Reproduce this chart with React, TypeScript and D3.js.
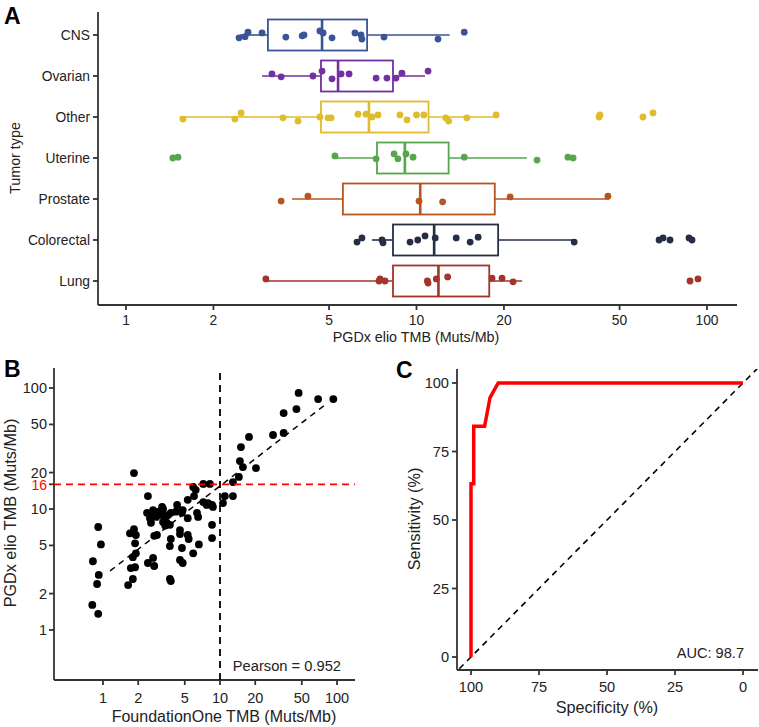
import React from 'react';
import * as d3 from 'd3';

// ---- Panel A: TMB by tumor type ----
const tumorTypes = ['CNS', 'Ovarian', 'Other', 'Uterine', 'Prostate', 'Colorectal', 'Lung'];
const typeColors = ['#3A5495', '#7230A1', '#DFBC2B', '#55A64C', '#B5561F', '#262E45', '#A3342A'];
const boxQ1 = [3.08, 4.69, 4.69, 7.31, 5.58, 8.3, 8.3];
const boxMedian = [4.73, 5.37, 6.86, 9.12, 10.3, 11.5, 11.9];
const boxQ3 = [6.76, 8.3, 11.0, 12.9, 18.6, 19.1, 17.8];
const whiskerLow = [2.47, 2.94, 1.53, 5.3, 3.73, 7.03, 3.0];
const whiskerHigh = [13.0, 10.7, 19.1, 24.0, 46.0, 34.9, 23.1];

const tmbCNS = [2.45, 2.57, 2.63, 2.94, 3.55, 4.04, 4.1, 4.65, 4.77, 5.12, 6.14, 6.44, 6.49, 7.73, 11.86, 14.6];
const jitCNS = [0.07, 0.04, -0.07, -0.05, 0.05, 0.02, 0, -0.1, -0.05, 0.07, -0.05, 0, 0.1, 0.05, 0.1, -0.07];
const tmbOvarian = [3.18, 3.42, 4.4, 4.73, 5.12, 5.5, 5.86, 7.26, 7.91, 8.5, 8.91, 10.96];
const jitOvarian = [-0.05, 0.02, 0, -0.12, 0.07, -0.05, -0.05, 0.05, 0.05, 0.05, -0.07, -0.12];
const tmbOther = [1.57, 2.37, 2.49, 3.47, 3.91, 4.65, 4.96, 5.08, 6.29, 6.7, 7.03, 7.37, 8.77, 9.27, 10.0, 10.6, 12.6, 12.9, 14.9, 18.8, 42.5, 42.8, 60.2, 65.2];
const jitOther = [0.05, 0.05, -0.1, 0.02, 0.1, 0, 0.02, 0.02, -0.07, -0.07, 0, -0.05, -0.05, 0.07, -0.05, -0.05, 0.02, 0.1, 0.02, -0.05, 0, -0.05, 0, -0.1];
const tmbUterine = [1.45, 1.51, 5.24, 7.26, 8.37, 8.63, 9.2, 9.73, 14.6, 26.0, 33.2, 34.6];
const jitUterine = [0, -0.02, -0.05, 0.02, -0.1, 0.02, -0.1, -0.02, -0.02, 0.05, -0.02, 0];
const tmbProstate = [3.42, 4.23, 10.2, 12.3, 21.0, 45.6];
const jitProstate = [0.05, -0.07, 0.05, 0.07, -0.05, -0.07];
const tmbColorectal = [6.24, 6.49, 7.61, 7.67, 9.5, 10.1, 10.7, 11.6, 13.7, 15.3, 16.3, 34.9, 68.4, 70.6, 74.6, 86.7, 88.8];
const jitColorectal = [0.05, -0.05, 0, 0.07, 0.05, 0, -0.1, -0.05, -0.05, 0.05, -0.07, 0.05, 0, -0.05, 0, -0.05, 0];
const tmbLung = [3.03, 7.43, 7.49, 7.79, 10.9, 10.96, 11.7, 12.8, 18.2, 19.7, 21.5, 87.4, 93.1];
const jitLung = [-0.05, 0, -0.05, 0, 0, 0.05, -0.05, -0.1, -0.07, -0.07, 0.02, 0, -0.05];

const typePoints = [tmbCNS, tmbOvarian, tmbOther, tmbUterine, tmbProstate, tmbColorectal, tmbLung];
const typeJitter = [jitCNS, jitOvarian, jitOther, jitUterine, jitProstate, jitColorectal, jitLung];
const logTicks = [1, 2, 5, 10, 20, 50, 100];

// ---- Panel B: concordance scatter ----
const foundationOne = [
  0.91, 0.96, 0.82, 0.92, 0.89, 0.81, 0.91,
  1.7, 1.84, 1.91, 1.88, 1.91, 1.8, 1.73, 1.88, 1.8, 1.64, 1.84,
  2.42, 2.68, 2.74, 2.38, 2.68, 2.52, 2.57, 2.74, 2.89, 2.42, 2.62, 2.85,
  3.26, 3.2, 3.38, 3.6, 3.26, 3.5, 3.73, 3.8, 3.2, 3.8, 3.73, 3.8, 3.73, 3.0, 3.4,
  4.3, 4.55, 4.55, 4.73, 4.55, 4.8, 4.73, 4.8, 5.3, 5.3, 5.4, 5.3, 4.2,
  6.36, 6.5, 5.9, 6.6, 6.2, 5.9, 6.0,
  8.55, 8.55, 8.55, 7.7, 7.2, 7.9, 8.7, 8.2, 7.2,
  10.6, 11.0, 12.9, 12.9, 14.5, 15.7, 20.3, 14.8, 15.1, 17.7, 28.4, 35, 35, 45, 47, 69, 93,
];
const pgdxElio = [
  7.1, 5.1, 3.7, 2.85, 2.4, 1.61, 1.36,
  6.3, 6.8, 6.1, 5.2, 4.3, 4.0, 3.25, 3.3, 2.64, 2.35, 19.8,
  3.58, 3.94, 3.38, 9.3, 9.8, 8.4, 7.7, 6.0, 6.1, 12.8, 9.0, 8.6,
  10.0, 8.9, 8.6, 8.9, 7.8, 7.7, 7.4, 9.3, 10.4, 5.65, 4.94, 2.54, 2.64, 9.5, 7.3,
  10.8, 6.7, 6.2, 4.76, 3.79, 3.58, 9.3, 9.8, 8.4, 6.1, 5.65, 11.9, 9.5,
  9.3, 8.6, 4.3, 5.1, 14.4, 15.2, 12.8,
  7.4, 5.75, 10.8, 10.8, 11.4, 11.2, 10.4, 16.1, 16.1,
  11.2, 12.8, 12.8, 16.7, 18.4, 22.2, 21.8, 24.9, 32.5, 39.4, 40.9, 42.5, 62, 67, 91, 81, 81,
];
const fitIntercept = 0.443; // log10 scale
const fitSlope = 0.747;
const fitRange = [1.15, 79];
const cutoffF1 = 10;
const cutoffElio = 16;
const yTicksB = [1, 2, 5, 10, 20, 50, 100];
const pearson = 0.952;

// ---- Panel C: ROC ----
const rocSpecificity = [100, 100, 99, 99, 95, 93, 90, 0];
const rocSensitivity = [0, 63.2, 63.2, 84.2, 84.2, 94.7, 100, 100];
const rocTicks = [0, 25, 50, 75, 100];
const auc = 98.7;

const FONT = '"Liberation Sans", Arial, Helvetica, sans-serif';
const TXT = '#222';
const AX = '#333';
const AXW = 1.8;

export default function App() {
  // Panel A scales
  const xA = d3.scaleLog().domain([1, 100]).range([126, 707]);
  const yA = d3.scalePoint<string>().domain(tumorTypes).range([35, 281]);
  const rowStep = 41;
  const boxH = 31;
  const aLeft = 98, aRight = 737, aTop = 12, aBottom = 305;

  // Panel B scales
  const xB = d3.scaleLog().domain([1, 100]).range([103, 337]);
  const yB = d3.scaleLog().domain([1, 100]).range([630, 388]);
  const bLeft = 54, bRight = 355, bTop = 368, bBottom = 680;
  const fitLine = d3.line<number>()
    .x(v => xB(v))
    .y(v => yB(Math.pow(10, fitIntercept + fitSlope * Math.log10(v))));

  // Panel C scales
  const xC = d3.scaleLinear().domain([100, 0]).range([471, 743]);
  const yC = d3.scaleLinear().domain([0, 100]).range([657, 383]);
  const cLeft = 457, cRight = 758, cTop = 369, cBottom = 670;
  const rocLine = d3.line<number>()
    .x((_, i) => xC(rocSpecificity[i]))
    .y(v => yC(v));

  return (
    <svg width={759} height={727} style={{ position: 'absolute', left: 0, top: 0, background: '#fff' }} fontFamily={FONT}>
      <rect width={759} height={727} fill="#fff" />

      {/* ===== Panel A ===== */}
      <text x={4} y={24} fontSize={23} fontWeight="bold" fill="#000">A</text>
      <line x1={aLeft} x2={aLeft} y1={aTop} y2={aBottom} stroke={AX} strokeWidth={AXW} />
      <line x1={aLeft} x2={aRight} y1={aBottom} y2={aBottom} stroke={AX} strokeWidth={AXW} />
      {tumorTypes.map(t => (
        <g key={t}>
          <line x1={aLeft - 5} x2={aLeft} y1={yA(t)} y2={yA(t)} stroke={AX} strokeWidth={AXW} />
          <text x={aLeft - 8} y={yA(t)! + 5} textAnchor="end" fontSize={13.8} fill={TXT}>{t}</text>
        </g>
      ))}
      {logTicks.map(v => (
        <g key={v}>
          <line x1={xA(v)} x2={xA(v)} y1={aBottom} y2={aBottom + 5} stroke={AX} strokeWidth={AXW} />
          <text x={xA(v)} y={aBottom + 20} textAnchor="middle" fontSize={13.8} fill={TXT}>{v}</text>
        </g>
      ))}
      <text x={416} y={342} textAnchor="middle" fontSize={14.3} fill={TXT}>PGDx elio TMB (Muts/Mb)</text>
      <text transform={`translate(20,158) rotate(-90)`} textAnchor="middle" fontSize={14.3} fill={TXT}>Tumor type</text>

      {tumorTypes.map((t, i) => {
        const cy = yA(t)!;
        const c = typeColors[i];
        return (
          <g key={t}>
            <line x1={xA(whiskerLow[i])} x2={xA(boxQ1[i])} y1={cy} y2={cy} stroke={c} strokeWidth={1.6} />
            <line x1={xA(boxQ3[i])} x2={xA(whiskerHigh[i])} y1={cy} y2={cy} stroke={c} strokeWidth={1.6} />
            <rect x={xA(boxQ1[i])} y={cy - boxH / 2} width={xA(boxQ3[i]) - xA(boxQ1[i])} height={boxH}
              fill="none" stroke={c} strokeWidth={1.8} />
            <line x1={xA(boxMedian[i])} x2={xA(boxMedian[i])} y1={cy - boxH / 2} y2={cy + boxH / 2} stroke={c} strokeWidth={2.6} />
            {typePoints[i].map((v, j) => (
              <circle key={j} cx={xA(v)} cy={cy + typeJitter[i][j] * rowStep} r={3.4} fill={c} />
            ))}
          </g>
        );
      })}

      {/* ===== Panel B ===== */}
      <text x={4} y={377} fontSize={23} fontWeight="bold" fill="#000">B</text>
      <line x1={bLeft} x2={bLeft} y1={bTop} y2={bBottom} stroke={AX} strokeWidth={AXW} />
      <line x1={bLeft} x2={bRight} y1={bBottom} y2={bBottom} stroke={AX} strokeWidth={AXW} />
      {yTicksB.map(v => (
        <g key={v}>
          <line x1={bLeft - 5} x2={bLeft} y1={yB(v)} y2={yB(v)} stroke={AX} strokeWidth={AXW} />
          <text x={bLeft - 7} y={yB(v) + 5} textAnchor="end" fontSize={14.5} fill={TXT}>{v}</text>
        </g>
      ))}
      <line x1={bLeft - 5} x2={bLeft} y1={yB(cutoffElio)} y2={yB(cutoffElio)} stroke={AX} strokeWidth={AXW} />
      <text x={bLeft - 7} y={yB(cutoffElio) + 6} textAnchor="end" fontSize={14} fill="#f00">{cutoffElio}</text>
      {logTicks.map(v => (
        <g key={v}>
          <line x1={xB(v)} x2={xB(v)} y1={bBottom} y2={bBottom + 5} stroke={AX} strokeWidth={AXW} />
          <text x={xB(v)} y={bBottom + 23} textAnchor="middle" fontSize={14.5} fill={TXT}>{v}</text>
        </g>
      ))}
      <text x={224} y={722} textAnchor="middle" fontSize={16} fill={TXT}>FoundationOne TMB (Muts/Mb)</text>
      <text transform={`translate(16,513) rotate(-90)`} textAnchor="middle" fontSize={16.2} fill={TXT}>PGDx elio TMB (Muts/Mb)</text>

      {foundationOne.map((v, i) => (
        <circle key={i} cx={xB(v)} cy={yB(pgdxElio[i])} r={3.9} fill="#000" />
      ))}
      <path d={fitLine(fitRange) ?? ''} fill="none" stroke="#000" strokeWidth={1.5} strokeDasharray="6,5" />
      <line x1={bLeft} x2={bRight} y1={yB(cutoffElio)} y2={yB(cutoffElio)} stroke="#f00" strokeWidth={1.8} strokeDasharray="7,5" />
      <line x1={xB(cutoffF1)} x2={xB(cutoffF1)} y1={bTop + 5} y2={bBottom} stroke="#000" strokeWidth={1.8} strokeDasharray="7,5" />
      <text x={341} y={671} textAnchor="end" fontSize={14.7} fill={TXT}>Pearson = {pearson}</text>

      {/* ===== Panel C ===== */}
      <defs>
        <clipPath id="clipC">
          <rect x={cLeft} y={cTop} width={cRight - cLeft} height={cBottom - cTop} />
        </clipPath>
      </defs>
      <text x={396} y={378} fontSize={23} fontWeight="bold" fill="#000">C</text>
      <line x1={cLeft} x2={cLeft} y1={cTop} y2={cBottom} stroke={AX} strokeWidth={AXW} />
      <line x1={cLeft} x2={cRight} y1={cBottom} y2={cBottom} stroke={AX} strokeWidth={AXW} />
      {rocTicks.map(v => (
        <g key={v}>
          <line x1={cLeft - 5} x2={cLeft} y1={yC(v)} y2={yC(v)} stroke={AX} strokeWidth={AXW} />
          <text x={cLeft - 8} y={yC(v) + 5} textAnchor="end" fontSize={14.6} fill={TXT}>{v}</text>
          <line x1={xC(v)} x2={xC(v)} y1={cBottom} y2={cBottom + 5} stroke={AX} strokeWidth={AXW} />
          <text x={xC(v)} y={cBottom + 22} textAnchor="middle" fontSize={14.6} fill={TXT}>{v}</text>
        </g>
      ))}
      <text x={(xC(100) + xC(0)) / 2} y={713} textAnchor="middle" fontSize={16.2} fill={TXT}>Specificity (%)</text>
      <text transform={`translate(420,519) rotate(-90)`} textAnchor="middle" fontSize={16.2} fill={TXT}>Sensitivity (%)</text>
      <line x1={xC(110)} y1={yC(-10)} x2={xC(-10)} y2={yC(110)} stroke="#000" strokeWidth={1.6} strokeDasharray="6,5" clipPath="url(#clipC)" />
      <path d={rocLine(rocSensitivity) ?? ''} fill="none" stroke="#f00" strokeWidth={3.5} strokeLinejoin="miter" />
      <text x={744} y={658} textAnchor="end" fontSize={14.6} fill={TXT}>AUC: {auc}</text>
    </svg>
  );
}
